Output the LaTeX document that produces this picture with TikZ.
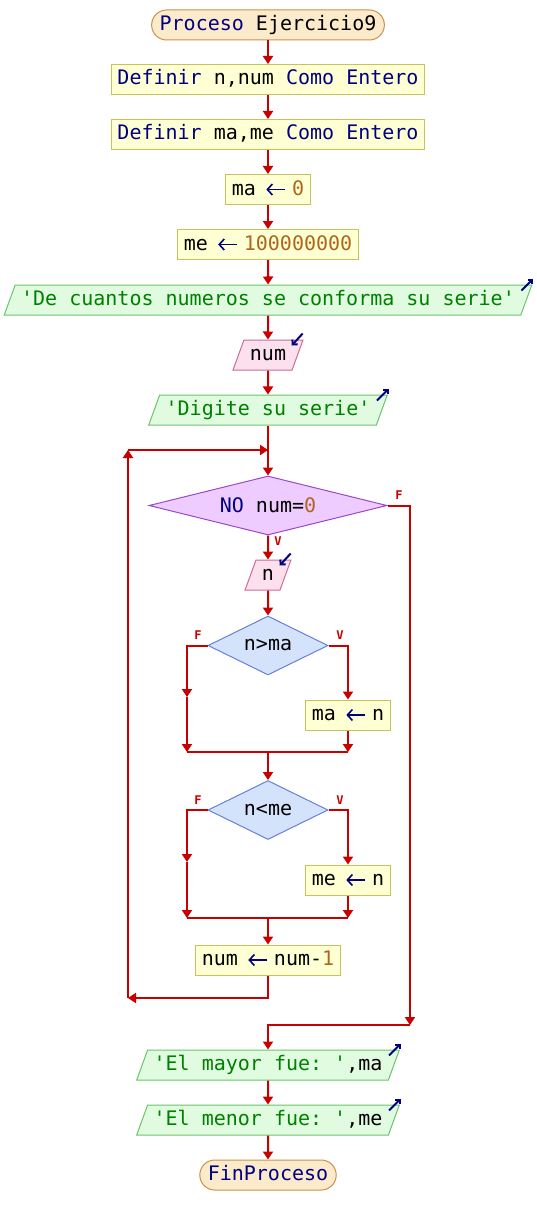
\documentclass[tikz,border=0pt]{standalone}
\usepackage{fontspec}
\setmonofont{DejaVu Sans Mono}
\usetikzlibrary{shapes.geometric,arrows.meta}
\definecolor{kwazul}{HTML}{000080}
\definecolor{cadverde}{HTML}{008000}
\definecolor{nrocafe}{HTML}{B0651E}
\definecolor{linroja}{HTML}{C80000}
\definecolor{procfondo}{HTML}{FCEBCB}
\definecolor{procborde}{HTML}{C8924A}
\definecolor{cajafondo}{HTML}{FFFFD4}
\definecolor{cajaborde}{HTML}{C4C45A}
\definecolor{salfondo}{HTML}{E0FBE0}
\definecolor{salborde}{HTML}{6CC46C}
\definecolor{leerfondo}{HTML}{FCE0EE}
\definecolor{leerborde}{HTML}{CC6C98}
\definecolor{mienfondo}{HTML}{EFCCFF}
\definecolor{mienborde}{HTML}{9A48C8}
\definecolor{sifondo}{HTML}{D4E2FC}
\definecolor{siborde}{HTML}{6482D6}
\newcommand{\kw}[1]{\textcolor{kwazul}{#1}}
\newcommand{\cad}[1]{\textcolor{cadverde}{#1}}
\newcommand{\nro}[1]{\textcolor{nrocafe}{#1}}
\newcommand{\asig}{\makebox[36pt][l]{\hspace{9.5pt}\tikz[baseline=-5.5pt]\draw[kwazul, line width=1.6pt,
    -{Straight Barb[length=5pt,width=11pt]}] (19pt,0pt) -- (0pt,0pt);}}
\begin{document}
\begin{tikzpicture}[x=1pt, y=-1pt, font=\fontsize{20}{24}\selectfont\ttfamily,
    linea/.style={draw=linroja, line width=2pt},
    flecha/.style={linea, -{Triangle[length=8pt,width=10pt]}},
    icono/.style={draw=kwazul, line width=2pt, -{Straight Barb[length=3.5pt,width=7pt]}},
    txt/.style={text height=15pt, text depth=4pt, inner ysep=5.5pt, line width=1pt},
    proc/.style={txt, draw=procborde, fill=procfondo, rounded corners=15pt, inner xsep=8pt},
    caja/.style={txt, draw=cajaborde, fill=cajafondo, inner xsep=6pt},
    salida/.style={txt, trapezium, trapezium left angle=70, trapezium right angle=110,
        draw=salborde, fill=salfondo, inner xsep=6pt},
    leer/.style={salida, draw=leerborde, fill=leerfondo},
    mien/.style={diamond, aspect=4, draw=mienborde, fill=mienfondo, line width=1pt, inner sep=0pt,
        minimum width=238pt, minimum height=59pt},
    cond/.style={mien, aspect=2, draw=siborde, fill=sifondo, minimum width=120pt},
    etq/.style={text=linroja, font=\fontsize{12}{12}\selectfont\ttfamily\bfseries, inner sep=0pt}]
    \useasboundingbox (0,0) rectangle (536,1225);
    \node[proc] (inicio) at (268,25) {\kw{Proceso} Ejercicio9};
    \node[caja] (def1) at (268,79.5) {\kw{Definir} n,num \kw{Como Entero}};
    \node[caja] (def2) at (268,134.5) {\kw{Definir} ma,me \kw{Como Entero}};
    \node[caja] (asigma) at (268,189.5) {ma\asig\nro{0}};
    \node[caja] (asigme) at (268,244.5) {me\asig\nro{100000000}};
    \node[salida] (sal1) at (268,300) {\cad{'De cuantos numeros se conforma su serie'}};
    \node[leer] (leer1) at (268,355) {num};
    \node[salida] (sal2) at (268,410) {\cad{'Digite su serie'}};
    \node[mien] (mientras) at (268,505.5) {\kw{NO} num=\nro{0}};
    \node[leer] (leer2) at (268,575) {n};
    \node[cond] (si1) at (268,645.5) {n>ma};
    \node[caja] (asig1) at (348,715) {ma\asig n};
    \node[cond] (si2) at (268,810) {n<me};
    \node[caja] (asig2) at (348,880) {me\asig n};
    \node[caja] (resta) at (268,960) {num\asig num-\nro{1}};
    \node[salida] (sal3) at (268,1065) {\cad{'El mayor fue: '},ma};
    \node[salida] (sal4) at (268,1120) {\cad{'El menor fue: '},me};
    \node[proc] (fin) at (268,1175) {\kw{FinProceso}};
    % etiquetas
    \node[etq] (fm) at (399,495) {F};
    \node[etq] (vm) at (278,541) {V};
    \node[etq] (f1) at (198,635) {F};
    \node[etq] (v1) at (340,635) {V};
    \node[etq] (f2) at (198,800) {F};
    \node[etq] (v2) at (340,800) {V};
    % puntos de union
    \coordinate (j1) at (268,450);
    \coordinate (r1) at (128,450);
    \coordinate (r2) at (128,998);
    \coordinate (j2) at (268,998);
    \coordinate (s1) at (410,505.5);
    \coordinate (s2) at (410,1025);
    \coordinate (s3) at (268,1025);
    \coordinate (a1) at (187,645.5);
    \coordinate (a2) at (187,697);
    \coordinate (a3) at (187,752);
    \coordinate (a4) at (348,645.5);
    \coordinate (a5) at (348,752);
    \coordinate (a6) at (268,752);
    \coordinate (b1) at (187,810);
    \coordinate (b2) at (187,862);
    \coordinate (b3) at (187,918);
    \coordinate (b4) at (348,810);
    \coordinate (b5) at (348,918);
    \coordinate (b6) at (268,918);
    \draw[flecha] (inicio) -- (def1);
    \draw[flecha] (def1) -- (def2);
    \draw[flecha] (def2) -- (asigma);
    \draw[flecha] (asigma) -- (asigme);
    \draw[flecha] (asigme) -- (sal1);
    \draw[flecha] (sal1) -- (leer1);
    \draw[flecha] (leer1) -- (sal2);
    \draw[linea] (sal2) -- (j1);
    \draw[flecha] (j1) -- (mientras);
    \draw[flecha] (mientras) -- (leer2);
    \draw[flecha] (leer2) -- (si1);
    \draw[flecha] (si1.west) -- (a1) -- (a2);
    \draw[flecha] (a2) -- (a3);
    \draw[flecha] (si1.east) -- (a4) -- (asig1);
    \draw[flecha] (asig1) -- (a5);
    \draw[linea] (a3) -- (a5);
    \draw[flecha] (a6) -- (si2);
    \draw[flecha] (si2.west) -- (b1) -- (b2);
    \draw[flecha] (b2) -- (b3);
    \draw[flecha] (si2.east) -- (b4) -- (asig2);
    \draw[flecha] (asig2) -- (b5);
    \draw[linea] (b3) -- (b5);
    \draw[flecha] (b6) -- (resta);
    \draw[flecha] (resta) -- (j2) -- (r2);
    \draw[flecha] (r2) -- (r1);
    \draw[flecha] (r1) -- (j1);
    \draw[flecha] (mientras.east) -- (s1) -- (s2);
    \draw[flecha] (s2) -- (s3) -- (sal3);
    \draw[flecha] (sal3) -- (sal4);
    \draw[flecha] (sal4) -- (fin);
    % iconos de entrada y salida
    \foreach \s in {sal1,sal2,sal3,sal4}
        \draw[icono] ([shift={(-11,6)}]\s.top right corner) -- ([shift={(1,-6)}]\s.top right corner);
    \foreach \e in {leer1,leer2}
        \draw[icono] ([shift={(-1,-6)}]\e.top right corner) -- ([shift={(-12,6)}]\e.top right corner);
\end{tikzpicture}
\end{document}
